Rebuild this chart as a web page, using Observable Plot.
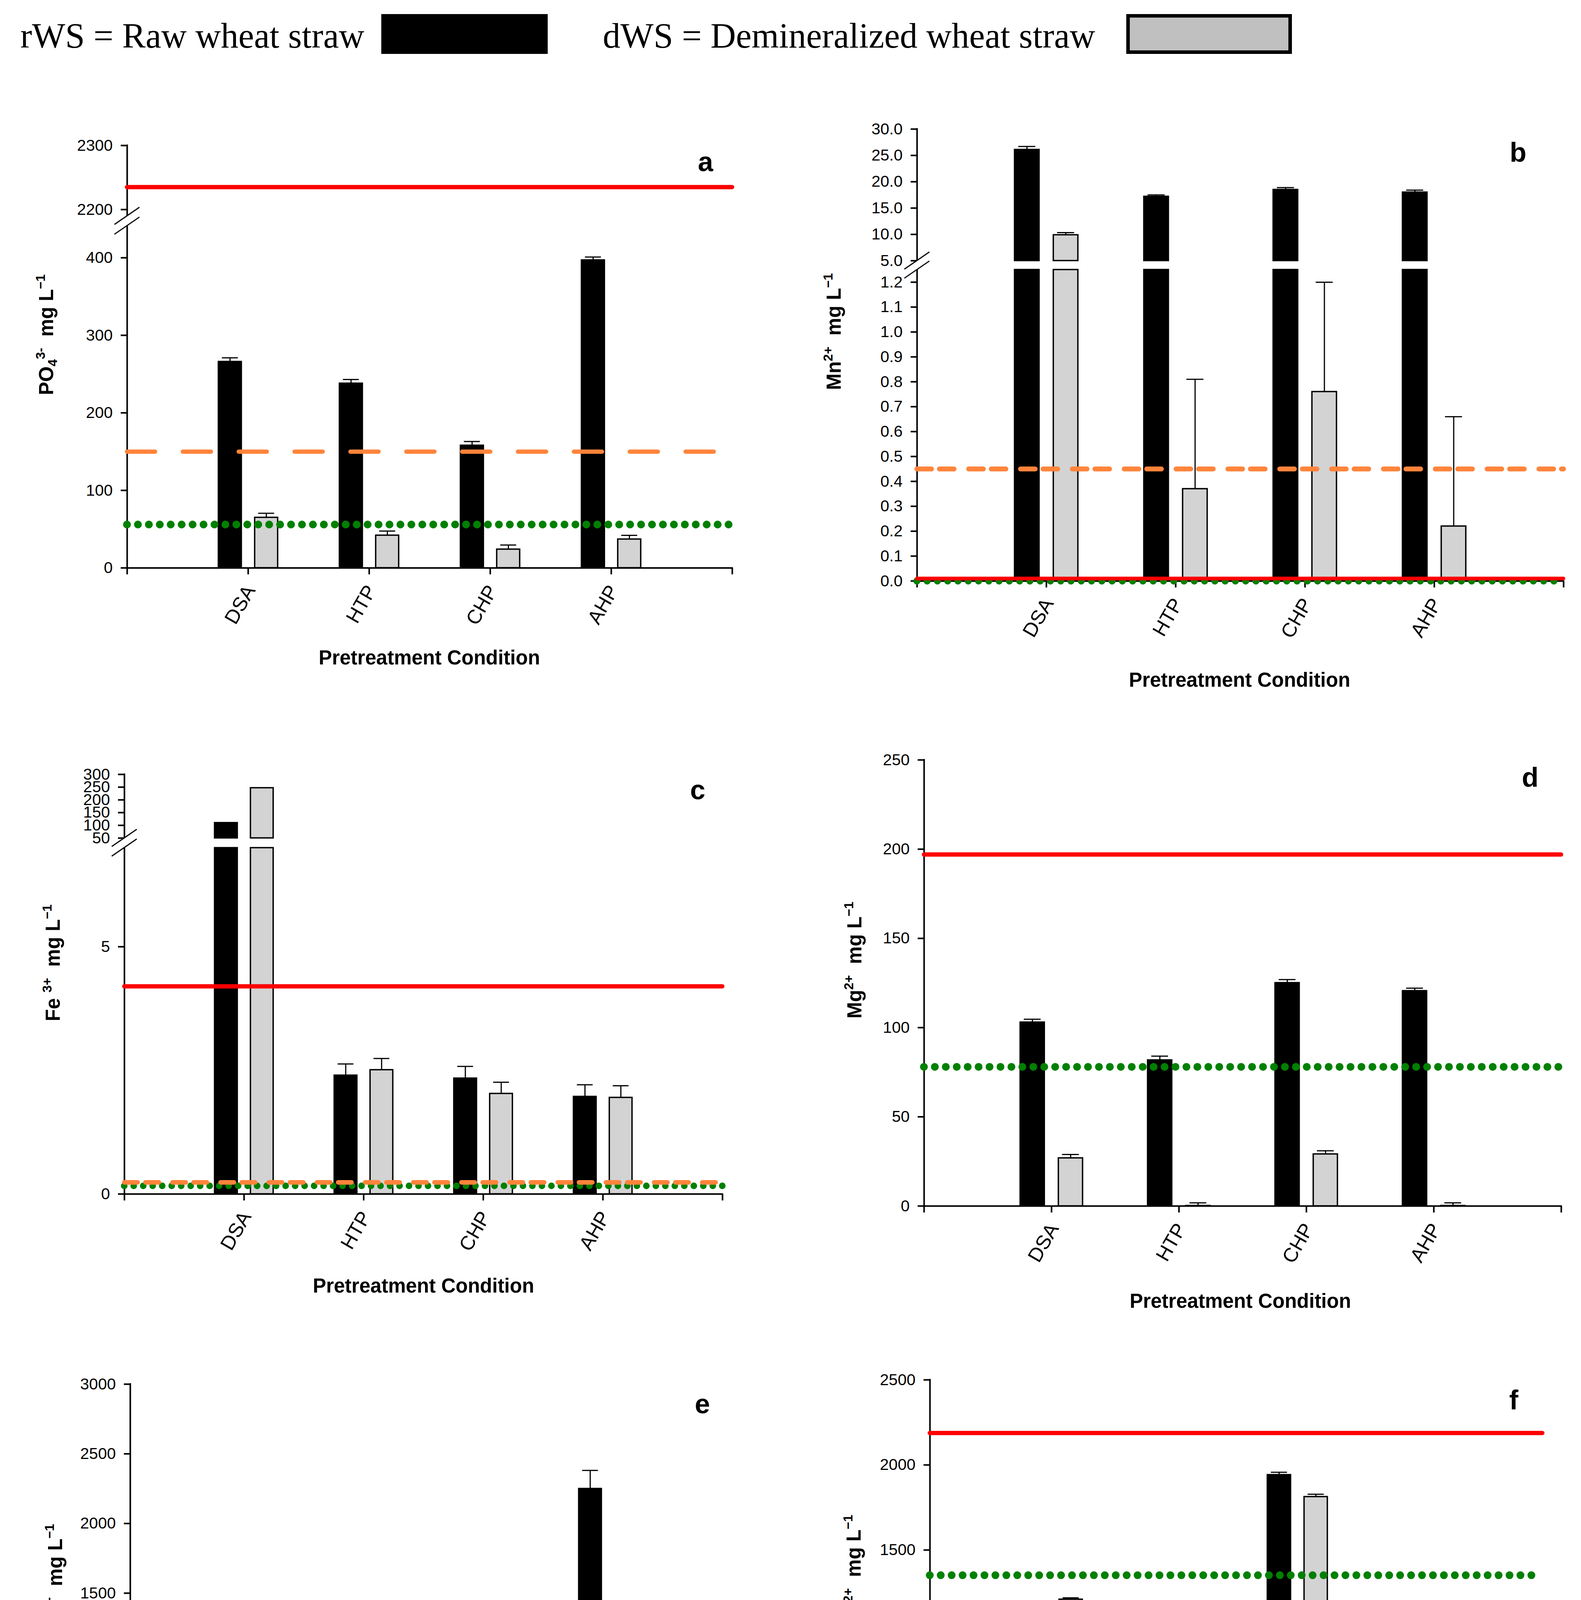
<!DOCTYPE html>
<html><head><meta charset="utf-8">
<script src="https://cdn.jsdelivr.net/npm/d3@7"></script>
<script src="https://cdn.jsdelivr.net/npm/@observablehq/plot@0.6"></script>
<style>
html,body{margin:0;padding:0;background:#fff;}
#root{position:relative;width:4047px;height:4911px;overflow:hidden;background:#fff;}
</style></head><body><div id="root"></div>
<script>
// ---------------- data ----------------
const categories = ["DSA", "HTP", "CHP", "AHP"];
const seriesNames = ["rWS = Raw wheat straw", "dWS = Demineralized wheat straw"];
const limitKinds = ["red", "orange", "green"];

// (a) PO4 3-
const po4_rWS = [266, 238, 158, 397];
const po4_rWS_err = [5, 5, 5, 4];
const po4_dWS = [65, 42, 24, 37];
const po4_dWS_err = [5.5, 5.5, 5.5, 5];
const po4_limits = [2235, 150, 56];
const po4_ticksTop = [2200, 2300];
const po4_ticksBottom = [0, 100, 200, 300, 400];

// (b) Mn2+
const mn_rWS = [26.1, 17.2, 18.5, 18.0];
const mn_rWS_err = [0.6, 0.3, 0.4, 0.4];
const mn_dWS = [9.9, 0.37, 0.76, 0.22];
const mn_dWS_err = [0.45, 0.44, 0.44, 0.44];
const mn_limits = [0.01, 0.45, 0];
const mn_ticksTop = [5, 10, 15, 20, 25, 30];
const mn_ticksBottom = [0, 0.1, 0.2, 0.3, 0.4, 0.5, 0.6, 0.7, 0.8, 0.9, 1.0, 1.1, 1.2];

// (c) Fe3+
const fe_rWS = [110, 2.40, 2.34, 1.97];
const fe_rWS_err = [0, 0.23, 0.24, 0.24];
const fe_dWS = [247, 2.51, 2.03, 1.95];
const fe_dWS_err = [0, 0.23, 0.23, 0.24];
const fe_limits = [4.2, 0.235, 0.165];
const fe_ticksTop = [50, 100, 150, 200, 250, 300];
const fe_ticksBottom = [0, 5];

// (d) Mg2+
const mg_rWS = [103, 81.8, 125.1, 120.6];
const mg_rWS_err = [1.7, 2.2, 1.8, 1.5];
const mg_dWS = [26.9, 0.2, 29.1, 0.2];
const mg_dWS_err = [2.0, 1.6, 1.9, 1.6];
const mg_limits = [197, null, 78];
const mg_ticks = [0, 50, 100, 150, 200, 250];

// (e) K+
const k_rWS = [1280, 1327, 1369, 2250];
const k_rWS_err = [29, 6, 16, 131];
const k_dWS = [null, null, null, null];
const k_dWS_err = [null, null, null, null];
const k_limits = [280, null, 26];
const k_ticks = [0, 500, 1000, 1500, 2000, 2500, 3000];

// (f) Ca2+
const ca_rWS = [1095, 107, 1942, 41];
const ca_rWS_err = [6, 11, 15, 8];
const ca_dWS = [1210, 5, 1813, 5];
const ca_dWS_err = [9, 12, 15, 10];
const ca_limits = [2188, null, 1352];
const ca_ticks = [0, 500, 1000, 1500, 2000, 2500];

// ---------------- styles ----------------
const FONT = "'Liberation Sans', Arial, Helvetica, sans-serif";
const SERIF = "'Liberation Serif', 'Times New Roman', Times, serif";
const GRAY = "#d3d3d3";
const OFF = [-0.15, 0.15], BW = 0.19, CAP = 0.066;
const REF = {
  red: {stroke: "#ff0000", strokeWidth: 11, strokeLinecap: "round"},
  orange: {stroke: "#ff843b", strokeWidth: 11, strokeDasharray: "72,71", strokeLinecap: "round"},
  green: {stroke: "#008000", strokeWidth: 20, strokeDasharray: "0,28", strokeLinecap: "round"}
};
const root = document.getElementById("root");

function rows(r, re, d, de) {
  const out = [];
  categories.forEach((c, i) => {
    if (r[i] != null) out.push({cat: c, i: i + 1, s: 0, v: r[i], e: re[i] || 0});
    if (d[i] != null) out.push({cat: c, i: i + 1, s: 1, v: d[i], e: de[i] || 0});
  });
  return out;
}
function yAt(cal, v) { const [vA, yA, vB, yB] = cal; return yA + (v - vA) * (yB - yA) / (vB - vA); }

function segment(o) {
  const [lo, hi] = o.domain;
  const top = yAt(o.cal, hi), bottom = yAt(o.cal, lo);
  const ml = 150, mr = 30, mt = 30, mb = o.xaxis ? 220 : 10;
  const data = o.data;
  const cx = d => d.i + OFF[d.s];
  const marks = [];
  // axes
  marks.push(Plot.ruleX([0], {strokeWidth: 4, strokeLinecap: "square"}));
  marks.push(Plot.axisY({ticks: o.ticks, tickFormat: o.fmt || (d => String(d)), tickSize: 16, tickPadding: 21, strokeWidth: 4}));
  if (o.xaxis) {
    marks.push(Plot.ruleY([lo], {strokeWidth: 4, strokeLinecap: "square"}));
    marks.push(Plot.axisX({ticks: [0, 1, 2, 3, 4, 5], tickSize: 17, tickFormat: () => "", strokeWidth: 4}));
    marks.push(Plot.text(categories, {x: (d, i) => i + 1, y: () => lo, text: d => d, rotate: -60,
      textAnchor: "end", lineAnchor: "bottom", dx: 20, dy: 57, fontSize: 51}));
  }
  // bars
  const inSeg = data.filter(d => d.v > lo);
  for (const s of [0, 1]) {
    marks.push(Plot.rect(inSeg.filter(d => d.s === s), {
      x1: d => cx(d) - BW / 2, x2: d => cx(d) + BW / 2,
      y1: () => lo, y2: d => Math.min(d.v, hi),
      fill: s ? GRAY : "#000", stroke: "#000", strokeWidth: 3.5
    }));
  }
  // error bars (upper whisker)
  const eb = data.filter(d => d.e > 0 && d.v >= lo && d.v < hi);
  marks.push(Plot.ruleX(eb, {x: cx, y1: d => d.v, y2: d => d.v + d.e, strokeWidth: 3}));
  marks.push(Plot.ruleY(eb, {y: d => d.v + d.e, x1: d => cx(d) - CAP, x2: d => cx(d) + CAP, strokeWidth: 3}));
  // reference lines
  for (const k of ["green", "orange", "red"]) {
    const v = o.limits[limitKinds.indexOf(k)];
    if (v != null && v >= lo && v <= hi) marks.push(Plot.ruleY([v], {...REF[k], ...((o.refStyle || {})[k] || {})}));
  }
  const svg = Plot.plot({
    width: o.right - o.left + ml + mr,
    height: bottom - top + mt + mb,
    marginLeft: ml, marginRight: mr, marginTop: mt, marginBottom: mb,
    x: {domain: [0, 5], axis: null},
    y: {domain: [lo, hi], axis: null},
    style: {fontFamily: FONT, fontSize: "41px", color: "#000", background: "transparent", overflow: "visible"},
    marks
  });
  svg.style.position = "absolute";
  svg.style.left = (o.left - ml) + "px";
  svg.style.top = (top - mt) + "px";
  svg.style.maxWidth = "none";
  root.appendChild(svg);
  return {top, bottom};
}

// ---------------- panels ----------------
const fmt1 = d3.format(".1f");
// a
const A = {left: 325, right: 1874, data: rows(po4_rWS, po4_rWS_err, po4_dWS, po4_dWS_err), limits: po4_limits};
const aTop = segment({...A, cal: [2200, 536, 2300, 372], domain: [2190, 2300], ticks: po4_ticksTop});
const aBot = segment({...A, cal: [0, 1453, 400, 659], domain: [0, 441], ticks: po4_ticksBottom, xaxis: true});
// b
const B = {left: 2347, right: 4002, data: rows(mn_rWS, mn_rWS_err, mn_dWS, mn_dWS_err), limits: mn_limits,
  refStyle: {red: {strokeWidth: 9.5},
             orange: {strokeWidth: 12.7, strokeDasharray: "37.3,20.4,37.3,37.7"},
             green: {strokeWidth: 18, strokeDasharray: "0,26.3"}}};
const bTop = segment({...B, cal: [5, 667, 30, 330], domain: [5, 30], ticks: mn_ticksTop, fmt: fmt1});
const bBot = segment({...B, cal: [0, 1487, 1.2, 722], domain: [0, 1.25], ticks: mn_ticksBottom, fmt: fmt1, xaxis: true});
// c
const C = {left: 318, right: 1849, data: rows(fe_rWS, fe_rWS_err, fe_dWS, fe_dWS_err), limits: fe_limits,
  refStyle: {orange: {strokeWidth: 11.7, strokeDasharray: "34.3,20,34.3,34.7"},
             green: {strokeWidth: 17, strokeDasharray: "0,24.3"}}};
const cTop = segment({...C, cal: [50, 2145, 300, 1982], domain: [50, 300], ticks: fe_ticksTop});
const cBot = segment({...C, cal: [0, 3056, 5, 2423], domain: [0, 7], ticks: fe_ticksBottom, xaxis: true});
// d
segment({left: 2365, right: 3996, data: rows(mg_rWS, mg_rWS_err, mg_dWS, mg_dWS_err), limits: mg_limits,
  cal: [0, 3087, 250, 1945], domain: [0, 250], ticks: mg_ticks, xaxis: true});
// e
segment({left: 333, right: 1862, data: rows(k_rWS, k_rWS_err, k_dWS, k_dWS_err), limits: k_limits,
  cal: [0, 4613, 3000, 3543], domain: [0, 3000], ticks: k_ticks, xaxis: true});
// f
segment({left: 2380, right: 3948, data: rows(ca_rWS, ca_rWS_err, ca_dWS, ca_dWS_err), limits: ca_limits,
  cal: [0, 4621, 2500, 3532], domain: [0, 2500], ticks: ca_ticks, xaxis: true});

// ---------------- overlay: legend, titles, letters, axis breaks ----------------
const ov = d3.create("svg").attr("width", 4047).attr("height", 4911)
  .style("position", "absolute").style("left", "0px").style("top", "0px");

ov.append("text").attr("x", 52).attr("y", 122).attr("font-family", SERIF).attr("font-size", 90).text(seriesNames[0]);
ov.append("rect").attr("x", 976).attr("y", 36).attr("width", 426).attr("height", 102).attr("fill", "#000");
ov.append("text").attr("x", 1543).attr("y", 122).attr("font-family", SERIF).attr("font-size", 90).text(seriesNames[1]);
ov.append("rect").attr("x", 2887.5).attr("y", 40.5).attr("width", 415).attr("height", 93)
  .attr("fill", "#c0c0c0").attr("stroke", "#000").attr("stroke-width", 9);

function yTitle(bx, cy, parts) {
  const t = ov.append("text").attr("transform", `translate(${bx},${cy}) rotate(-90)`)
    .attr("text-anchor", "middle").attr("font-family", FONT).attr("font-weight", "bold")
    .attr("font-size", 51).style("white-space", "pre");
  let cur = 0;
  for (const [s, k] of parts) {
    const shift = k === "sup" ? -21 : k === "sub" ? 10 : 0;
    const ts = t.append("tspan").attr("dy", shift - cur).text(s);
    if (k !== "n") ts.attr("font-size", 33);
    cur = shift;
  }
}
yTitle(136, 857, [["PO", "n"], ["4", "sub"], ["3-", "sup"], ["  mg L", "n"], ["\u22121", "sup"]]);
yTitle(2152, 849, [["Mn", "n"], ["2+", "sup"], ["  mg L", "n"], ["\u22121", "sup"]]);
yTitle(153, 2465, [["Fe ", "n"], ["3+", "sup"], ["  mg L", "n"], ["\u22121", "sup"]]);
yTitle(2205, 2458, [["Mg", "n"], ["2+", "sup"], ["  mg L", "n"], ["\u22121", "sup"]]);
yTitle(159, 4023, [["K", "n"], ["+", "sup"], ["  mg L", "n"], ["\u22121", "sup"]]);
yTitle(2203, 4023, [["Ca", "n"], ["2+", "sup"], ["  mg L", "n"], ["\u22121", "sup"]]);

const xTitles = [[1099, 1701], [3173, 1758], [1084, 3309], [3175, 3348], [1097, 4862], [3162, 4876]];
for (const [x, y] of xTitles) {
  ov.append("text").attr("x", x).attr("y", y).attr("text-anchor", "middle").attr("font-family", FONT)
    .attr("font-weight", "bold").attr("font-size", 51).text("Pretreatment Condition");
}
const letters = [["a", 1806, 438], ["b", 3886, 414], ["c", 1786, 2046], ["d", 3917, 2014], ["e", 1798, 3618], ["f", 3875, 3608]];
for (const [s, x, y] of letters) {
  ov.append("text").attr("x", x).attr("y", y).attr("text-anchor", "middle").attr("font-family", FONT)
    .attr("font-weight", "bold").attr("font-size", 70).text(s);
}
function breakMark(ax, yU, yL) {
  const dx = 32, dy = 22;
  ov.append("polygon").attr("points", [[ax - dx, yU + dy], [ax + dx, yU - dy], [ax + dx, yL - dy], [ax - dx, yL + dy]].join(" "))
    .attr("fill", "#fff");
  for (const y of [yU, yL]) {
    ov.append("line").attr("x1", ax - dx).attr("y1", y + dy).attr("x2", ax + dx).attr("y2", y - dy)
      .attr("stroke", "#000").attr("stroke-width", 3);
  }
}
breakMark(A.left, aTop.bottom, aBot.top);
breakMark(B.left, bTop.bottom, bBot.top);
breakMark(C.left, cTop.bottom, cBot.top);

root.appendChild(ov.node());
</script></body></html>
